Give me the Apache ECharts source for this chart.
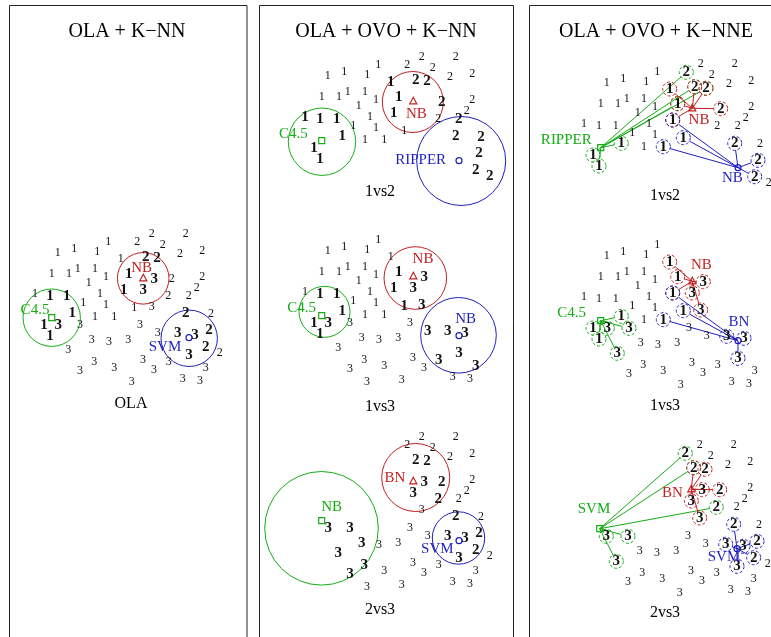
<!DOCTYPE html>
<html lang="en">
<head>
<meta charset="utf-8">
<title>OLA + OVO + K-NN</title>
<script src="https://cdn.jsdelivr.net/npm/echarts@6/dist/echarts.min.js"></script>
<style>
  html, body { margin: 0; background: #fff; }
  #main { width: 771px; height: 637px; }
</style>
</head>
<body>
<div id="main"></div>
<script>
// the same sample is drawn again in every sub-plot: [x, y] in plot units (y grows down)
var ones = [
  [57.7, 73.3], [74.3, 69], [97.3, 71.7], [108.3, 62.3], [120.7, 79],
  [51.7, 94], [69, 94], [77.7, 89], [95, 89], [106, 96.7],
  [88.7, 102.7], [100, 114], [83.3, 122.7], [106, 125.3], [95, 136.7],
  [114.3, 136.7], [134.3, 127.7], [35, 113.7], [50, 116], [66.7, 116],
  [72.3, 133.3], [44, 145], [50, 156], [128.7, 93.7], [123.7, 110]
];
var twos = [
  [151.7, 54], [185.7, 54], [137.3, 62.3], [162.7, 65.3], [180, 73.7],
  [202.3, 70.7], [145.7, 76.7], [157, 78.3], [171.7, 98.7], [202.3, 96.7],
  [196.7, 107.7], [168.3, 116.3], [188.7, 116.3], [185.7, 133.3], [211, 134],
  [209, 150.3], [205.7, 166.7], [219.7, 172.7]
];
var threes = [
  [154.3, 98.7], [143.3, 110], [151.7, 127], [140, 145.3], [157.7, 153.3],
  [177.7, 153.3], [195, 155.3], [189, 175.3], [168.7, 181.7], [205.7, 187.7],
  [182.7, 199.3], [200, 201], [154, 189.7], [143, 179.7], [131.7, 201.7],
  [114.3, 187.7], [94.3, 182.3], [80, 190.7], [68.3, 170.3], [91.7, 160],
  [109, 162.3], [128.3, 159.7], [58.3, 145.3], [80, 145.3], [97, 204]
];

// the three query points, same place in every sub-plot
var queries = { A: [51.7, 137.7], B: [143.3, 98.3], C: [189, 157.7] };

var panelTitles = ['OLA + K\u2212NN', 'OLA + OVO + K\u2212NN', 'OLA + OVO + K\u2212NNE'];

// sub-plots. bold = neighbours, given as point numbers per class (1-based)
// hoods: K-NN circle round each query; knne: neighbours linked to each query
var subplots = [
  { name: 'OLA', dx: 0, dy: 180, labelPos: [131, 404], classes: [1, 2, 3], hide: [[3, 25]],
    bold: { 1: [19, 20, 21, 22, 23, 24, 25], 2: [7, 8, 14, 16, 17], 3: [1, 2, 6, 7, 8, 23] },
    hoods: [
      { q: 'A', c: [51.7, 137.7], r: 28.7, text: 'C4.5', at: [35, 130] },
      { q: 'B', c: [143.2, 98.3], r: 25.8, text: 'NB', at: [141.7, 88.3] },
      { q: 'C', c: [189.2, 158.3], r: 28.2, text: 'SVM', at: [165, 166.7] }
    ] },
  { name: '1vs2', dx: 270, dy: 3, labelPos: [380, 192], classes: [1, 2], hide: [],
    bold: { 1: [5, 18, 19, 20, 21, 22, 23, 24, 25], 2: [7, 8, 9, 13, 14, 15, 16, 17, 18] },
    hoods: [
      { q: 'A', c: [52, 138.7], r: 33.7, text: 'C4.5', at: [23.3, 131] },
      { q: 'B', c: [142.8, 99], r: 30.5, text: 'NB', at: [146.3, 111] },
      { q: 'C', c: [191.2, 158], r: 44.5, text: 'RIPPER', at: [150.7, 157] }
    ] },
  { name: '1vs3', dx: 270, dy: 178, labelPos: [380, 407], classes: [1, 3], hide: [],
    bold: { 1: [17, 19, 20, 21, 22, 23, 24, 25], 3: [1, 2, 3, 5, 6, 7, 8, 9, 10, 23] },
    hoods: [
      { q: 'A', c: [54.5, 133.8], r: 25.5, text: 'C4.5', at: [31.7, 130.3] },
      { q: 'B', c: [145.3, 100], r: 31.3, text: 'NB', at: [153, 81.3] },
      { q: 'C', c: [188.5, 157.3], r: 37.8, text: 'NB', at: [195.7, 141.3] }
    ] },
  { name: '2vs3', dx: 270, dy: 383, labelPos: [380, 610], classes: [2, 3], hide: [],
    bold: { 2: [7, 8, 9, 12, 14, 16, 17], 3: [1, 2, 6, 7, 8, 17, 18, 19, 20, 23, 24] },
    hoods: [
      { q: 'A', c: [51.5, 145.3], r: 56.8, text: 'NB', at: [61.7, 124.3] },
      { q: 'B', c: [145.7, 94.5], r: 34, text: 'BN', at: [125, 95.3] },
      { q: 'C', c: [188.5, 155], r: 26.2, text: 'SVM', at: [167.3, 166] }
    ] },
  { name: '1vs2', dx: 549, dy: 10, labelPos: [665, 196], classes: [1, 2], hide: [],
    knne: [
      { q: 'A', text: 'RIPPER', at: [17.3, 130], nn: [[2, 3], [2, 7], [2, 8], [1, 24], [1, 21], [1, 22], [1, 23]] },
      { q: 'B', text: 'NB', at: [150, 110], nn: [[1, 5], [1, 24], [1, 25], [2, 7], [2, 8], [2, 9]] },
      { q: 'C', text: 'NB', at: [183.3, 168.3], nn: [[1, 25], [1, 17], [1, 16], [2, 14], [2, 16], [2, 17]] }
    ] },
  { name: '1vs3', dx: 549, dy: 183, labelPos: [665, 406], classes: [1, 3], hide: [[3, 25]],
    knne: [
      { q: 'A', text: 'C4.5', at: [22.7, 129.7], nn: [[1, 21], [1, 22], [1, 23], [3, 23], [3, 24], [3, 19]] },
      { q: 'B', text: 'NB', at: [152.3, 82], nn: [[1, 5], [1, 24], [1, 25], [3, 1], [3, 2], [3, 3]] },
      { q: 'C', text: 'BN', at: [190, 138.7], nn: [[1, 25], [1, 17], [1, 16], [3, 6], [3, 7], [3, 8]] }
    ] },
  { name: '2vs3', dx: 548, dy: 391, labelPos: [665, 613], classes: [2, 3], hide: [[3, 25]],
    knne: [
      { q: 'A', text: 'SVM', at: [46, 118.3], nn: [[2, 3], [2, 7], [2, 12], [3, 23], [3, 24], [3, 19]] },
      { q: 'B', text: 'BN', at: [124.3, 101.7], nn: [[2, 7], [2, 8], [2, 9], [3, 1], [3, 2], [3, 3]] },
      { q: 'C', text: 'SVM', at: [176, 165.7], nn: [[2, 14], [2, 16], [2, 17], [3, 6], [3, 7], [3, 8]] }
    ] }
];

var SERIF = "'Liberation Serif', 'DejaVu Serif', serif";
var COLORS = { A: '#14ad14', B: '#c41f1f', C: '#1f1fbf' };
var clouds = [ones, twos, threes];

function has(list, c, n) {
  for (var k = 0; k < list.length; k++) if (list[k][0] === c && list[k][1] === n) return true;
  return false;
}
function isBold(sp, c, n) {
  if (sp.bold) return (sp.bold[c] || []).indexOf(n) >= 0;
  return sp.knne.some(function (g) { return has(g.nn, c, n); });
}
function pointOf(c, n) { return clouds[c - 1][n - 1]; }

function drawMarker(q, p, color, group) {
  var st = { fill: 'none', stroke: color, lineWidth: 1.2 };
  if (q === 'A') group.push({ type: 'rect', shape: { x: p[0] - 3, y: p[1] - 3, width: 6, height: 6 }, style: st });
  else if (q === 'B') group.push({ type: 'polygon', shape: { points: [[p[0], p[1] - 4], [p[0] - 3.5, p[1] + 2.5], [p[0] + 3.5, p[1] + 2.5]] }, style: st });
  else group.push({ type: 'circle', shape: { cx: p[0], cy: p[1], r: 3 }, style: st });
}

var X0 = 0, X1 = 220, Y0 = 40, Y1 = 215;
var grids = [], xAxes = [], yAxes = [], series = [];

subplots.forEach(function (sp, i) {
  grids.push({ left: sp.dx + X0, top: sp.dy + Y0, width: X1 - X0, height: Y1 - Y0 });
  xAxes.push({ gridIndex: i, type: 'value', min: X0, max: X1, show: false });
  yAxes.push({ gridIndex: i, type: 'value', min: Y0, max: Y1, inverse: true, show: false });

  var groups = sp.hoods || sp.knne;

  // circles (K-NN) or dashed rings + links (K-NNE)
  series.push({
    type: 'custom', xAxisIndex: i, yAxisIndex: i, silent: true, animation: false, clip: false,
    data: groups.map(function (g) { return queries[g.q]; }),
    renderItem: function (params, api) {
      var g = groups[params.dataIndex];
      var color = COLORS[g.q];
      var els = [];
      if (sp.hoods) {
        var c = api.coord(g.c);
        els.push({ type: 'circle', shape: { cx: c[0], cy: c[1], r: api.size([g.r, 0])[0] },
          style: { fill: 'none', stroke: color, lineWidth: 1 } });
      } else {
        var q = api.coord(queries[g.q]);
        g.nn.forEach(function (ref) {
          var p = api.coord(pointOf(ref[0], ref[1]));
          var vx = p[0] - q[0], vy = p[1] - q[1];
          var len = Math.sqrt(vx * vx + vy * vy) || 1;
          els.push({ type: 'line', shape: { x1: q[0], y1: q[1], x2: p[0] - vx / len * 7, y2: p[1] - vy / len * 7 },
            style: { stroke: color, lineWidth: 1 } });
          els.push({ type: 'circle', shape: { cx: p[0], cy: p[1], r: 7 },
            style: { fill: 'none', stroke: color, lineWidth: 1, lineDash: [3, 2] } });
        });
      }
      return { type: 'group', children: els };
    }
  });

  // the digits
  var digits = [];
  sp.classes.forEach(function (c) {
    clouds[c - 1].forEach(function (pt, k) {
      if (has(sp.hide, c, k + 1)) return;
      digits.push([pt[0], pt[1], c, isBold(sp, c, k + 1) ? 1 : 0]);
    });
  });
  series.push({
    type: 'custom', xAxisIndex: i, yAxisIndex: i, silent: true, animation: false, clip: false,
    data: digits,
    renderItem: function (params, api) {
      var p = api.coord([api.value(0), api.value(1)]);
      var bold = api.value(3) === 1;
      return { type: 'text', x: p[0], y: p[1],
        style: { text: String(api.value(2)), align: 'center', verticalAlign: 'middle',
          fontFamily: SERIF, fontSize: bold ? 15 : 12, fontWeight: bold ? 'bold' : 'normal', fill: '#111' } };
    }
  });

  // query markers and classifier names
  series.push({
    type: 'custom', xAxisIndex: i, yAxisIndex: i, silent: true, animation: false, clip: false,
    data: groups.map(function (g) { return queries[g.q]; }),
    renderItem: function (params, api) {
      var g = groups[params.dataIndex];
      var color = COLORS[g.q];
      var els = [];
      drawMarker(g.q, api.coord(queries[g.q]), color, els);
      var t = api.coord(g.at);
      els.push({ type: 'text', x: t[0], y: t[1],
        style: { text: g.text, align: 'center', verticalAlign: 'middle', fontFamily: SERIF, fontSize: 15, fill: color } });
      return { type: 'group', children: els };
    }
  });
});

// panel frames, titles and sub-plot names
var frames = [[9.5, 237.5], [259.5, 254], [529.5, 300]];
var titleX = [127, 386, 656];
var elements = [];
frames.forEach(function (f, k) {
  elements.push({ type: 'rect', shape: { x: f[0], y: 5.5, width: f[1], height: 700 },
    style: { fill: 'none', stroke: '#222', lineWidth: 1 } });
  elements.push({ type: 'text', x: titleX[k], y: 32,
    style: { text: panelTitles[k], align: 'center', verticalAlign: 'middle', fontFamily: SERIF, fontSize: 20, fill: '#000' } });
});
subplots.forEach(function (sp) {
  elements.push({ type: 'text', x: sp.labelPos[0], y: sp.labelPos[1],
    style: { text: sp.name, align: 'center', verticalAlign: 'middle', fontFamily: SERIF, fontSize: 16, fill: '#000' } });
});

var chart = echarts.init(document.getElementById('main'));
chart.setOption({
  backgroundColor: '#fff',
  animation: false,
  grid: grids,
  xAxis: xAxes,
  yAxis: yAxes,
  graphic: { elements: elements },
  series: series
});
</script>
</body>
</html>
